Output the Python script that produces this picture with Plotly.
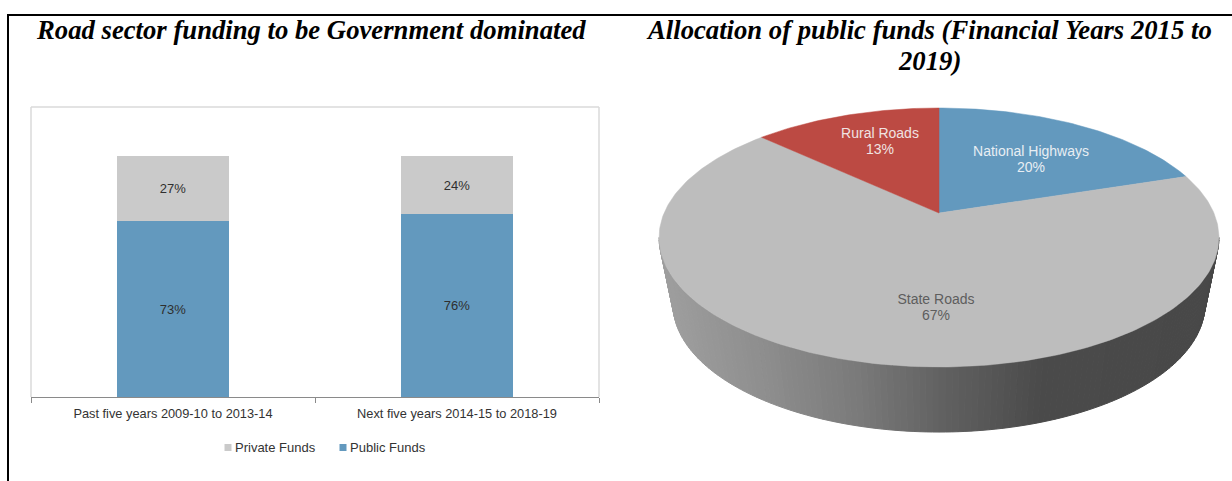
import numpy as np
import plotly.graph_objects as go

# Stacked bars: share of road funding by source
periods = ["Past five years 2009-10 to 2013-14", "Next five years 2014-15 to 2018-19"]
public_funds = [73, 76]
private_funds = [27, 24]

# Pie: allocation of public funds, clockwise from twelve o'clock
pie_labels = ["National Highways", "State Roads", "Rural Roads"]
pie_values = [20, 67, 13]
pie_colors = ["#6399BE", "#BDBDBD", "#BC4A43"]
pie_text_colors = ["#E8EEF3", "#5E5E5E", "#F0E3E2"]
pie_text_x = [1031, 936, 880]
pie_name_y = [152, 300, 134]
pie_value_y = [168, 316, 150]

BLUE = "#6399BE"
LIGHT = "#CACACA"

# Tilted disc drawn as a projective map of the unit circle
CX = 939
TILT = 0.1892
TOP_RIM = dict(wx=274.9, ay=-84.57, by=213.0)
BOTTOM_RIM = dict(wx=261.2, ay=-70.5, by=279.8)


def rim(theta, wx, ay, by):
    u, v = np.sin(theta), np.cos(theta)
    w = 1 + TILT * v
    return CX + wx * u / w, (ay * v + by) / w


# Shade of the disc's side wall as a function of screen x
SHADE_X = [660, 760, 860, 940, 1040, 1220]
SHADE_V = [160, 143, 122, 98, 75, 72]

fig = go.Figure()

for name, values, color in (("Public Funds", public_funds, BLUE), ("Private Funds", private_funds, LIGHT)):
    fig.add_trace(go.Bar(
        x=periods, y=values, name=name, marker=dict(color=color, line=dict(width=0)),
        texttemplate="%{y}%", textposition="inside", insidetextanchor="middle",
        textangle=0, textfont=dict(color="#2F2F2F", size=13), xaxis="x", yaxis="y",
        showlegend=False,
    ))

# Side wall of the disc: thin quads along the front half of the rim
limit = np.arcsin(TILT)
edges = np.linspace(np.pi / 2 + limit, 3 * np.pi / 2 - limit, 141)
for t0, t1 in zip(edges[:-1], edges[1:]):
    ts = np.array([t0, t1])
    x_top, y_top = rim(ts, **TOP_RIM)
    x_bot, y_bot = rim(ts, **BOTTOM_RIM)
    level = int(np.interp((x_top.mean() + x_bot.mean()) / 2, SHADE_X, SHADE_V))
    shade = f"rgb({level},{level},{level})"
    fig.add_trace(go.Scatter(
        x=[x_top[0], x_top[1], x_bot[1], x_bot[0], x_top[0]],
        y=[y_top[0], y_top[1], y_bot[1], y_bot[0], y_top[0]],
        mode="lines", fill="toself", fillcolor=shade, line=dict(color=shade, width=1),
        hoverinfo="skip", showlegend=False, xaxis="x2", yaxis="y2",
    ))

# Top face: one wedge per category, swept from the values
start = 0.0
total = sum(pie_values)
for label, value, color in zip(pie_labels, pie_values, pie_colors):
    stop = start + value / total * 2 * np.pi
    sweep = np.linspace(start, stop, max(int(value * 4), 12))
    rx, ry = rim(sweep, **TOP_RIM)
    cx0, cy0 = CX, TOP_RIM["by"]
    fig.add_trace(go.Scatter(
        x=np.r_[cx0, rx, cx0], y=np.r_[cy0, ry, cy0],
        mode="lines", fill="toself", fillcolor=color, line=dict(color=color, width=0.5),
        name=label, hoverinfo="name", showlegend=False, xaxis="x2", yaxis="y2",
    ))
    start = stop

# Wedge captions: name and share on their own tight rows
fig.add_trace(go.Scatter(
    x=pie_text_x * 2, y=pie_name_y + pie_value_y,
    text=pie_labels + [f"{v}%" for v in pie_values],
    mode="text", textposition="middle center",
    textfont=dict(family="Liberation Sans", size=14, color=pie_text_colors * 2),
    hoverinfo="skip", showlegend=False, xaxis="x2", yaxis="y2",
))

# Compact legend for the bars: small square keys set tight against their names
fig.add_trace(go.Scatter(
    x=[228, 343], y=[447.5, 447.5], mode="markers",
    marker=dict(symbol="square", size=7, color=[LIGHT, BLUE]),
    hoverinfo="skip", showlegend=False, xaxis="x2", yaxis="y2",
))

W, H = 1232, 481
frame = dict(color="#DADADA", width=1.5)
shapes = [
    dict(type="line", xref="paper", yref="paper", x0=7 / W, x1=1, y0=1 - 15 / H, y1=1 - 15 / H,
         line=dict(color="black", width=2)),
    dict(type="line", xref="paper", yref="paper", x0=8 / W, x1=8 / W, y0=0, y1=1 - 14 / H,
         line=dict(color="black", width=2)),
    dict(type="line", xref="x domain", yref="y domain", x0=0, x1=1, y0=1, y1=1, line=frame, layer="below"),
    dict(type="line", xref="x domain", yref="y domain", x0=0, x1=0, y0=0, y1=1, line=frame, layer="below"),
    dict(type="line", xref="x domain", yref="y domain", x0=1, x1=1, y0=0, y1=1, line=frame, layer="below"),
]

title_font = dict(family="Liberation Serif", size=26.7, color="black")
legend_font = dict(family="Liberation Sans", size=13, color="#333333")
annotations = [
    dict(text="<b><i>Road sector funding to be Government dominated</i></b>", xref="paper", yref="paper",
         x=311 / W, y=1 - 30 / H, xanchor="center", yanchor="middle", showarrow=False, font=title_font),
    dict(text="<b><i>Allocation of public funds (Financial Years 2015 to</i></b>", xref="paper", yref="paper",
         x=929 / W, y=1 - 30 / H, xanchor="center", yanchor="middle", showarrow=False, font=title_font),
    dict(text="<b><i>2019)</i></b>", xref="paper", yref="paper",
         x=929 / W, y=1 - 61 / H, xanchor="center", yanchor="middle", showarrow=False, font=title_font),
    dict(text="Private Funds", xref="paper", yref="paper", x=233 / W, y=1 - 447 / H,
         xanchor="left", yanchor="middle", showarrow=False, font=legend_font),
    dict(text="Public Funds", xref="paper", yref="paper", x=348 / W, y=1 - 447 / H,
         xanchor="left", yanchor="middle", showarrow=False, font=legend_font),
]

fig.update_layout(
    width=W, height=H, margin=dict(l=0, r=0, t=0, b=0), paper_bgcolor="white", plot_bgcolor="rgba(0,0,0,0)",
    barmode="stack", bargap=0.605, showlegend=False,
    font=dict(family="Liberation Sans", size=12, color="#333333"),
    shapes=shapes, annotations=annotations,
    xaxis=dict(domain=[31 / W, 599 / W], type="category", showline=True, linecolor="#8A8A8A", linewidth=1,
               ticks="outside", tickson="boundaries", ticklen=5, tickcolor="#8A8A8A",
               ticklabelstandoff=5, showgrid=False, tickfont=dict(size=12.8, color="#333333"), fixedrange=True),
    yaxis=dict(domain=[1 - 397 / H, 1 - 107 / H], range=[0, 120.4], visible=False, showgrid=False, fixedrange=True),
    xaxis2=dict(domain=[0, 1], range=[0, W], visible=False, anchor="y2", fixedrange=True),
    yaxis2=dict(domain=[0, 1], range=[H, 0], visible=False, anchor="x2", fixedrange=True),
)

fig.write_html("out.html")
